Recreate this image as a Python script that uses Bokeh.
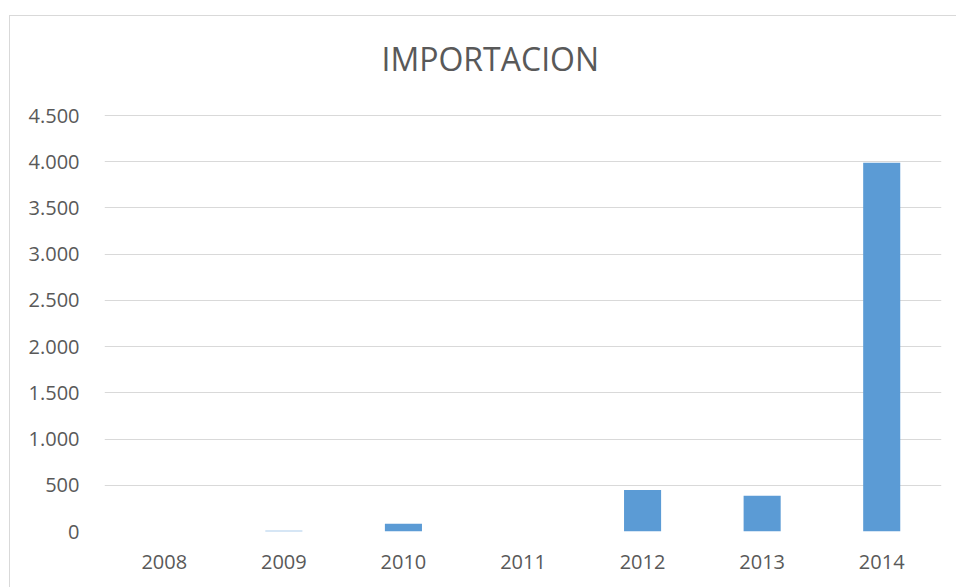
from bokeh.plotting import figure
from bokeh.models import FactorRange, Range1d, Title, FixedTicker, InlineStyleSheet
from bokeh.embed import file_html
from bokeh.resources import INLINE

years = ["2008", "2009", "2010", "2011", "2012", "2013", "2014"]
importacion = [0, 8, 83, 0, 450, 388, 3990]
y_ticks = [0, 500, 1000, 1500, 2000, 2500, 3000, 3500, 4000, 4500]
y_tick_labels = ["0", "500", "1.000", "1.500", "2.000", "2.500", "3.000", "3.500", "4.000", "4.500"]
title_text = "IMPORTACION"

FONT = "Open Sans"
TXT = "#595959"
GRID = "#d9d9d9"

p = figure(width=956, height=587, output_backend="svg", toolbar_location=None,
           x_range=FactorRange(factors=years), y_range=Range1d(0, 4511),
           min_border_left=104, min_border_right=15, min_border_top=113,
           min_border_bottom=56)
p.outline_line_color = None
p.background_fill_color = "white"
p.border_fill_color = "white"

p.title = Title(text=title_text, align="left", offset=277, vertical_align="bottom",
                standoff=69, text_font=FONT, text_font_size="32px",
                text_font_style="normal", text_color=TXT)

p.vbar(x=years, top=importacion, width=0.31, color="#5b9bd5", line_color=None)

p.yaxis.ticker = FixedTicker(ticks=y_ticks)
p.yaxis.major_label_overrides = {t: l for t, l in zip(y_ticks, y_tick_labels)}
for ax in (p.xaxis, p.yaxis):
    ax.axis_line_color = None
    ax.major_tick_line_color = None
    ax.minor_tick_line_color = None
    ax.major_label_text_font = FONT
    ax.major_label_text_font_size = "20px"
    ax.major_label_text_color = TXT
p.yaxis.major_label_standoff = 19
p.xaxis.major_label_standoff = 17

p.xgrid.grid_line_color = None
p.ygrid.grid_line_color = GRID
p.ygrid.grid_line_width = 1

p.stylesheets = [InlineStyleSheet(css=(
    ":host { position: relative; }"
    ":host::after { content: ''; position: absolute; left: 9px; top: 15px; right: 0; bottom: 0;"
    " border-left: 1px solid #d9d9d9; border-top: 1px solid #d9d9d9; pointer-events: none; }"
))]

open("out.html", "w").write(file_html(p, INLINE))
